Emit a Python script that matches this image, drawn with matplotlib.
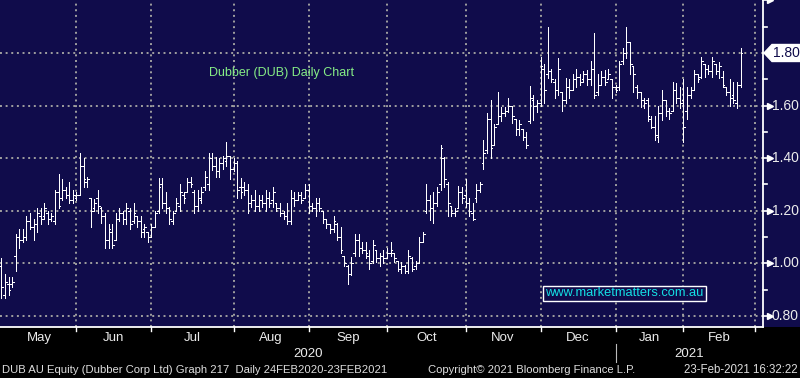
import numpy as np
import pandas as pd
import matplotlib.pyplot as plt
from matplotlib.patches import Polygon, Rectangle
from matplotlib.transforms import blended_transform_factory

# DUB daily bars, 1 May 2020 - 23 Feb 2021 (ASX trading days)
holidays = ["2020-06-08", "2020-12-25", "2020-12-28", "2021-01-01", "2021-01-26"]
dates = pd.bdate_range("2020-05-01", "2021-02-23")
dates = dates[~dates.isin(pd.to_datetime(holidays))]

opens = [0.99, 0.88, 0.92, 0.92, 1.03, 1.10, 1.09, 1.10, 1.16, 1.14,
         1.15, 1.18, 1.18, 1.19, 1.17, 1.16, 1.27, 1.25, 1.28, 1.26,
         1.24, 1.25, 1.26, 1.37, 1.31, 1.25, 1.21, 1.25, 1.21, 1.18,
         1.09, 1.12, 1.09, 1.17, 1.19, 1.17, 1.20, 1.16, 1.18, 1.16,
         1.13, 1.12, 1.10, 1.14, 1.20, 1.30, 1.23, 1.21, 1.16, 1.20,
         1.22, 1.26, 1.27, 1.31, 1.27, 1.22, 1.24, 1.29, 1.30, 1.40,
         1.37, 1.35, 1.38, 1.39, 1.41, 1.36, 1.38, 1.29, 1.29, 1.28,
         1.23, 1.24, 1.22, 1.24, 1.23, 1.25, 1.24, 1.23, 1.21, 1.19,
         1.18, 1.16, 1.25, 1.24, 1.26, 1.25, 1.28, 1.22, 1.21, 1.23,
         1.20, 1.17, 1.15, 1.13, 1.15, 1.10, 1.03, 0.99, 0.96, 1.04,
         1.09, 1.06, 1.05, 1.03, 1.01, 1.05, 1.02, 1.03, 1.02, 1.04,
         1.04, 1.01, 0.98, 0.99, 0.97, 1.02, 0.99, 1.00, 1.08, 1.20,
         1.24, 1.21, 1.23, 1.30, 1.40, 1.30, 1.22, 1.19, 1.21, 1.27,
         1.26, 1.23, 1.19, 1.25, 1.28, 1.38, 1.43, 1.55, 1.45, 1.53,
         1.56, 1.57, 1.58, 1.60, 1.55, 1.51, 1.51, 1.48, 1.54, 1.62,
         1.60, 1.61, 1.74, 1.72, 1.73, 1.69, 1.66, 1.65, 1.62, 1.67,
         1.66, 1.70, 1.71, 1.70, 1.72, 1.70, 1.74, 1.65, 1.68, 1.71,
         1.70, 1.70, 1.67, 1.67, 1.77, 1.80, 1.84, 1.75, 1.67, 1.65,
         1.62, 1.62, 1.55, 1.52, 1.48, 1.57, 1.62, 1.58, 1.58, 1.66,
         1.63, 1.62, 1.58, 1.64, 1.66, 1.72, 1.71, 1.76, 1.74, 1.73,
         1.76, 1.73, 1.71, 1.67, 1.65, 1.64, 1.61, 1.68]
highs = [1.02, 0.96, 0.95, 0.95, 1.11, 1.13, 1.13, 1.18, 1.19, 1.17,
         1.21, 1.21, 1.23, 1.20, 1.19, 1.28, 1.34, 1.32, 1.29, 1.31,
         1.28, 1.27, 1.42, 1.40, 1.33, 1.25, 1.245, 1.28, 1.215, 1.19,
         1.15, 1.15, 1.19, 1.21, 1.20, 1.23, 1.21, 1.23, 1.18, 1.18,
         1.15, 1.12, 1.15, 1.20, 1.325, 1.325, 1.27, 1.215, 1.20, 1.25,
         1.30, 1.27, 1.325, 1.33, 1.28, 1.28, 1.29, 1.35, 1.42, 1.42,
         1.405, 1.40, 1.41, 1.46, 1.41, 1.40, 1.39, 1.325, 1.31, 1.30,
         1.26, 1.28, 1.26, 1.26, 1.28, 1.27, 1.29, 1.23, 1.23, 1.20,
         1.23, 1.28, 1.27, 1.27, 1.27, 1.30, 1.30, 1.23, 1.25, 1.25,
         1.20, 1.17, 1.15, 1.18, 1.155, 1.14, 1.03, 0.995, 1.025, 1.11,
         1.11, 1.08, 1.08, 1.05, 1.09, 1.05, 1.04, 1.05, 1.06, 1.08,
         1.04, 1.01, 1.005, 0.995, 1.05, 1.025, 1.01, 1.10, 1.12, 1.30,
         1.26, 1.27, 1.29, 1.45, 1.405, 1.31, 1.22, 1.21, 1.295, 1.29,
         1.32, 1.25, 1.23, 1.30, 1.31, 1.47, 1.57, 1.62, 1.53, 1.65,
         1.595, 1.595, 1.63, 1.60, 1.55, 1.545, 1.51, 1.50, 1.675, 1.64,
         1.62, 1.785, 1.76, 1.90, 1.74, 1.70, 1.78, 1.65, 1.705, 1.70,
         1.72, 1.74, 1.72, 1.73, 1.735, 1.77, 1.875, 1.72, 1.73, 1.735,
         1.74, 1.70, 1.68, 1.77, 1.82, 1.90, 1.84, 1.75, 1.68, 1.65,
         1.63, 1.63, 1.56, 1.56, 1.60, 1.66, 1.62, 1.59, 1.69, 1.685,
         1.67, 1.70, 1.67, 1.67, 1.735, 1.72, 1.785, 1.76, 1.755, 1.785,
         1.76, 1.765, 1.73, 1.67, 1.70, 1.69, 1.69, 1.82]
lows = [0.87, 0.87, 0.88, 0.91, 0.97, 1.06, 1.08, 1.09, 1.13, 1.09,
        1.12, 1.15, 1.17, 1.15, 1.16, 1.15, 1.21, 1.24, 1.25, 1.23,
        1.23, 1.24, 1.26, 1.29, 1.29, 1.14, 1.20, 1.19, 1.155, 1.06,
        1.06, 1.06, 1.09, 1.16, 1.15, 1.15, 1.13, 1.155, 1.14, 1.10,
        1.10, 1.08, 1.10, 1.14, 1.19, 1.21, 1.19, 1.15, 1.15, 1.20,
        1.20, 1.23, 1.27, 1.29, 1.19, 1.20, 1.23, 1.28, 1.28, 1.355,
        1.33, 1.33, 1.36, 1.37, 1.32, 1.35, 1.25, 1.25, 1.26, 1.19,
        1.215, 1.20, 1.20, 1.215, 1.20, 1.215, 1.215, 1.20, 1.18, 1.17,
        1.15, 1.15, 1.22, 1.24, 1.23, 1.25, 1.19, 1.20, 1.18, 1.20,
        1.155, 1.135, 1.115, 1.12, 1.09, 1.04, 0.99, 0.92, 0.955, 1.03,
        1.03, 1.04, 1.02, 0.98, 1.00, 1.005, 0.99, 1.00, 1.02, 1.03,
        1.005, 0.97, 0.965, 0.965, 0.965, 0.97, 0.98, 1.00, 1.08, 1.19,
        1.165, 1.155, 1.22, 1.28, 1.29, 1.18, 1.18, 1.18, 1.21, 1.23,
        1.215, 1.18, 1.165, 1.235, 1.27, 1.36, 1.42, 1.40, 1.45, 1.53,
        1.54, 1.56, 1.575, 1.535, 1.49, 1.49, 1.47, 1.44, 1.535, 1.545,
        1.575, 1.60, 1.61, 1.705, 1.69, 1.63, 1.64, 1.58, 1.61, 1.63,
        1.66, 1.67, 1.68, 1.69, 1.68, 1.68, 1.63, 1.64, 1.68, 1.68,
        1.70, 1.63, 1.65, 1.66, 1.76, 1.78, 1.72, 1.65, 1.63, 1.595,
        1.59, 1.54, 1.515, 1.47, 1.46, 1.545, 1.56, 1.55, 1.58, 1.61,
        1.59, 1.46, 1.55, 1.63, 1.66, 1.69, 1.705, 1.71, 1.72, 1.71,
        1.72, 1.705, 1.67, 1.64, 1.60, 1.61, 1.59, 1.67]
closes = [0.91, 0.93, 0.90, 0.93, 1.10, 1.09, 1.10, 1.16, 1.14, 1.15,
          1.19, 1.17, 1.21, 1.17, 1.18, 1.27, 1.22, 1.28, 1.26, 1.24,
          1.26, 1.26, 1.37, 1.32, 1.32, 1.20, 1.23, 1.22, 1.18, 1.09,
          1.13, 1.07, 1.17, 1.19, 1.17, 1.21, 1.15, 1.19, 1.16, 1.12,
          1.14, 1.10, 1.14, 1.19, 1.29, 1.23, 1.21, 1.17, 1.19, 1.23,
          1.27, 1.25, 1.31, 1.30, 1.22, 1.25, 1.27, 1.33, 1.40, 1.37,
          1.35, 1.38, 1.40, 1.41, 1.36, 1.38, 1.28, 1.27, 1.28, 1.23,
          1.24, 1.22, 1.24, 1.23, 1.25, 1.23, 1.27, 1.21, 1.19, 1.18,
          1.16, 1.25, 1.24, 1.26, 1.24, 1.28, 1.22, 1.21, 1.23, 1.21,
          1.17, 1.15, 1.13, 1.16, 1.10, 1.05, 1.00, 0.96, 1.00, 1.09,
          1.06, 1.05, 1.04, 1.00, 1.07, 1.02, 1.03, 1.02, 1.04, 1.05,
          1.02, 0.98, 0.99, 0.97, 1.03, 0.98, 1.00, 1.08, 1.11, 1.24,
          1.21, 1.23, 1.27, 1.44, 1.32, 1.23, 1.19, 1.20, 1.27, 1.25,
          1.23, 1.20, 1.17, 1.28, 1.30, 1.42, 1.55, 1.44, 1.52, 1.56,
          1.57, 1.58, 1.60, 1.56, 1.51, 1.53, 1.48, 1.45, 1.63, 1.60,
          1.61, 1.75, 1.66, 1.73, 1.70, 1.66, 1.74, 1.62, 1.67, 1.66,
          1.70, 1.71, 1.69, 1.72, 1.70, 1.74, 1.64, 1.68, 1.71, 1.69,
          1.72, 1.67, 1.66, 1.76, 1.80, 1.84, 1.76, 1.72, 1.65, 1.62,
          1.61, 1.56, 1.52, 1.49, 1.57, 1.62, 1.58, 1.57, 1.66, 1.63,
          1.61, 1.52, 1.64, 1.66, 1.72, 1.70, 1.77, 1.74, 1.73, 1.77,
          1.73, 1.75, 1.68, 1.65, 1.63, 1.62, 1.68, 1.80]

month_names = ["May", "Jun", "Jul", "Aug", "Sep", "Oct", "Nov", "Dec", "Jan", "Feb"]
price_ticks = [0.80, 1.00, 1.20, 1.40, 1.60, 1.80]
minor_ticks = [0.90, 1.10, 1.30, 1.50, 1.70, 1.90]
last_price = 1.80

NAVY = "#100c4b"
GRID = "#a0a0a0"
FONT = "Liberation Sans"
LABEL = "#ececec"

x = np.arange(len(dates))

# first trading day of each month, plus 1 Mar 2021 (3 more trading days after 23 Feb)
month_key = dates.year * 12 + dates.month
starts = [0] + [i for i in range(1, len(dates)) if month_key[i] != month_key[i - 1]]
bounds = starts + [len(dates) + 3]

fig = plt.figure(figsize=(8, 3.78), dpi=100, facecolor=NAVY)
band = Rectangle((0, 0), 1, 51 / 378, transform=fig.transFigure,
                 facecolor="black", edgecolor="none", zorder=-10)
fig.patches.append(band)
ax = fig.add_axes([0, 51 / 378, 763 / 800, 327 / 378], facecolor=NAVY)
ax.set_zorder(1)
ax.set_xlim(-0.42, 213.3)
ax.set_ylim(2.0015 - 327 / 263, 2.0015)
ax.set_xticks([])
ax.set_yticks([])
for s in ["top", "left"]:
    ax.spines[s].set_visible(False)
for s in ["right", "bottom"]:
    ax.spines[s].set_color("white")
    ax.spines[s].set_linewidth(1.3)

for v in price_ticks:
    ax.axhline(v, color=GRID, lw=1.4, ls=(0, (1.0, 1.9)), zorder=1)
for b in bounds[1:]:
    ax.axvline(b, color=GRID, lw=1.4, ls=(0, (1.0, 1.9)), zorder=1)

# OHLC bars
bar_kw = dict(color="white", lw=0.6, zorder=3, antialiased=False)
ax.vlines(x, lows, highs, **bar_kw)
ax.hlines(opens, x - 0.5, x, **bar_kw)
ax.hlines(closes, x, x + 0.5, **bar_kw)

# right axis ticks and labels
ty = blended_transform_factory(ax.transAxes, ax.transData)
px = 1 / 763
for v in price_ticks + [2.0]:
    ax.plot([1, 1 + 5 * px], [v, v], color="white", lw=1.2, transform=ty, clip_on=False)
    ax.plot([1 + 7 * px], [v], marker=">", ms=5, color="white", mec="white",
            transform=ty, clip_on=False)
for v in minor_ticks:
    ax.plot([1, 1 + 4 * px], [v, v], color="white", lw=1.2, transform=ty, clip_on=False)
for v in price_ticks:
    if v == last_price:
        continue
    ax.text(1 + 9 * px, v, f"{v:.2f}", transform=ty, ha="left", va="center",
            color=LABEL, fontsize=10, family=FONT, clip_on=False)

h = 8.5 / 263
tag = Polygon([(1 + 1 * px, last_price), (1 + 9 * px, last_price + h),
               (800 / 763, last_price + h), (800 / 763, last_price - h),
               (1 + 9 * px, last_price - h)], closed=True, transform=ty,
              facecolor="white", edgecolor="white", clip_on=False, zorder=5)
ax.add_patch(tag)
ax.text(1 + 10 * px, last_price, f"{last_price:.2f}", transform=ty, ha="left",
        va="center", color=NAVY, fontsize=10, family=FONT, clip_on=False, zorder=6)

# bottom axis: month ticks, labels, years
tx = blended_transform_factory(ax.transData, ax.transAxes)
py = 1 / 327
for b in bounds[1:]:
    ax.plot([b, b], [0, -4 * py], color="white", lw=1.0, transform=tx, clip_on=False)
for name, a, b in zip(month_names, bounds[:-1], bounds[1:]):
    ax.text((a + b) / 2, -11 * py, name, transform=tx, ha="center", va="center",
            color=LABEL, fontsize=9.5, family=FONT, clip_on=False)
jan = bounds[8]
ax.text(jan / 2, -27 * py, "2020", transform=tx, ha="center", va="center",
        color=LABEL, fontsize=9.5, family=FONT, clip_on=False)
ax.text((jan + 213.3) / 2, -27 * py, "2021", transform=tx, ha="center", va="center",
        color=LABEL, fontsize=9.5, family=FONT, clip_on=False)
ax.plot([jan, jan], [-17 * py, -35 * py], color="#bbbbbb", lw=0.8, transform=tx,
        clip_on=False)

# title and watermark
ax.text(209 / 763, 1 - 73 / 327, "Dubber (DUB) Daily Chart", transform=ax.transAxes,
        ha="left", va="center", color="#86ee86", fontsize=9, family=FONT)
ax.text(624.5 / 763, 1 - 293.5 / 327, "www.marketmatters.com.au", transform=ax.transAxes,
        ha="center", va="center", color="#14e0e4", fontsize=9.3, family=FONT,
        bbox=dict(boxstyle="square,pad=0.15", facecolor=NAVY, edgecolor="white", lw=1))

# footer
fy = 1 - 370 / 378
fig.text(2 / 800, fy, "DUB AU Equity (Dubber Corp Ltd) Graph 217  Daily 24FEB2020-23FEB2021",
         ha="left", va="center", color="#dddddd", fontsize=8.1, family=FONT)
fig.text(428 / 800, fy, "Copyright\u00a9 2021 Bloomberg Finance L.P.",
         ha="left", va="center", color="#dddddd", fontsize=8.1, family=FONT)
fig.text(798 / 800, fy, "23-Feb-2021 16:32:22",
         ha="right", va="center", color="#dddddd", fontsize=8.3, family=FONT)

fig.savefig("out.png", dpi=100, facecolor=NAVY)
